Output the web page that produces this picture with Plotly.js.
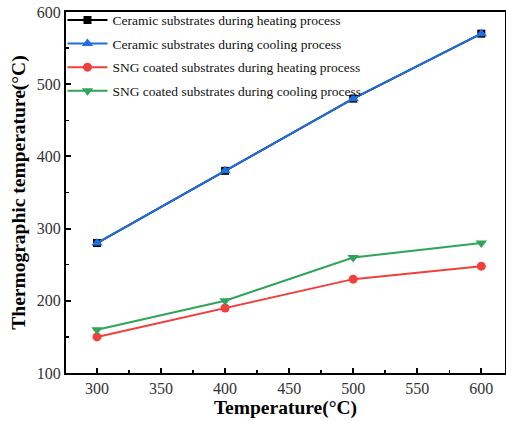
<!DOCTYPE html>
<html><head><meta charset="utf-8">
<script src="https://cdn.plot.ly/plotly-3.0.1.min.js"></script>
<style>html,body{margin:0;padding:0;background:#fff}</style>
</head><body><div id="chart" style="width:506px;height:421px"></div>
<script>
const temps = [300, 400, 500, 600];
const ceramicHeating = [280, 380, 480, 570];
const ceramicCooling = [280, 380, 480, 570];
const sngHeating = [150, 190, 230, 248];
const sngCooling = [160, 200, 260, 280];
const names = [
  "Ceramic substrates during heating process",
  "Ceramic substrates during cooling process",
  "SNG coated substrates during heating process",
  "SNG coated substrates during cooling process"
];
const serif = "Liberation Serif, Times New Roman, serif";
function tr(y, name, color, sym, g, sz) {
  return {x: temps, y: y, name: name, type: "scatter", mode: "lines+markers", legendgroup: g,
    line: {color: color, width: 2}, marker: {color: color, symbol: sym, size: sz}};
}
const data = [
  tr(ceramicHeating, names[0], "#000000", "square", "a", 8),
  tr(ceramicCooling, names[1], "#1f6fe0", "triangle-up", "b", 10),
  tr(sngHeating, names[2], "#f0403c", "circle", "c", 9),
  tr(sngCooling, names[3], "#2ea55a", "triangle-down", "d", 10)
];
const layout = {
  width: 506, height: 421,
  margin: {l: 66, r: 1, t: 12, b: 48},
  paper_bgcolor: "#fff", plot_bgcolor: "#fff",
  font: {family: serif, color: "#000"},
  showlegend: true,
  legend: {x: -0.008, y: 1.02, xanchor: "left", yanchor: "top", bgcolor: "rgba(0,0,0,0)",
    font: {family: serif, size: 13.5, color: "#111"}, tracegroupgap: 3, itemwidth: 40},
  xaxis: {range: [275.8, 618.5], tickvals: [300, 350, 400, 450, 500, 550, 600],
    ticks: "inside", ticklen: 5, tickwidth: 2, tickcolor: "#000",
    minor: {dtick: 25, tick0: 300, ticks: "inside", ticklen: 3, tickwidth: 1.5, tickcolor: "#000"},
    showline: true, linewidth: 2, linecolor: "#000", mirror: true, showgrid: false, zeroline: false,
    tickfont: {family: serif, size: 16, color: "#333"},
    title: {text: "<b>Temperature(°C)</b>", font: {family: serif, size: 19.5, color: "#000"}, standoff: 3}},
  yaxis: {range: [100, 600], tickvals: [100, 200, 300, 400, 500, 600],
    ticks: "inside", ticklen: 5, tickwidth: 2, tickcolor: "#000",
    minor: {dtick: 50, tick0: 100, ticks: "inside", ticklen: 3, tickwidth: 1.5, tickcolor: "#000"},
    showline: true, linewidth: 2, linecolor: "#000", mirror: true, showgrid: false, zeroline: false,
    tickfont: {family: serif, size: 16, color: "#333"},
    title: {text: "<b>Thermographic temperature(°C)</b>", font: {family: serif, size: 19.5, color: "#000"}, standoff: 6}}
};
Plotly.newPlot("chart", data, layout, {displayModeBar: false, staticPlot: true});
</script></body></html>
